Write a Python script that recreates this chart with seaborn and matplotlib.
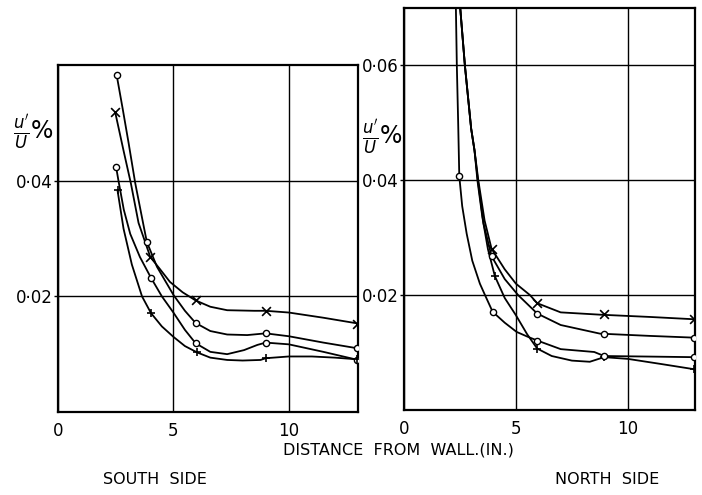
import numpy as np
import pandas as pd
import matplotlib
matplotlib.use("Agg")
import matplotlib.pyplot as plt
import seaborn as sns

# ---------------- data ----------------
# South side – measured points
s_A_pts = [0.0583, 0.0294, 0.0154, 0.0136, 0.0110]   # circles (top start)
s_X_pts = [0.0518, 0.0268, 0.0193, 0.0175, 0.0153]   # crosses
s_C_pts = [0.0423, 0.0232, 0.0119, 0.0120, 0.0090]   # circles
s_P_pts = [0.0383, 0.0171, 0.0103, 0.0093, 0.0091]   # plus
s_A_xp = [2.54, 3.85, 5.96, 9.0, 12.96]
s_X_xp = [2.48, 4.0, 5.96, 9.0, 12.96]
s_C_xp = [2.52, 4.03, 5.96, 9.0, 12.96]
s_P_xp = [2.58, 4.03, 6.03, 9.0, 12.96]
# South side – faired curves
s_A_cx = [2.54, 2.8, 3.06, 3.35, 3.71, 3.85, 4.29, 5.01, 5.5, 5.96, 6.6, 7.33, 8.2, 9.0, 10.0, 11.5, 13.0]
s_A_cy = [0.0583, 0.0525, 0.0465, 0.0395, 0.0322, 0.0294, 0.0251, 0.0202, 0.0175, 0.0154, 0.0140, 0.0134, 0.0133, 0.0136, 0.0131, 0.0120, 0.0110]
s_X_cx = [2.48, 2.84, 3.16, 3.49, 4.0, 4.4, 4.85, 5.4, 5.96, 6.6, 7.33, 8.5, 9.0, 10.0, 11.5, 13.0]
s_X_cy = [0.0518, 0.0452, 0.0395, 0.0327, 0.0268, 0.0248, 0.0225, 0.0207, 0.0193, 0.0182, 0.0176, 0.0175, 0.0175, 0.0172, 0.0163, 0.0153]
s_C_cx = [2.52, 2.62, 2.85, 3.13, 3.55, 4.03, 4.5, 5.0, 5.5, 5.96, 6.6, 7.33, 8.06, 8.64, 9.0, 10.0, 11.5, 13.0]
s_C_cy = [0.0423, 0.0400, 0.0350, 0.0308, 0.0268, 0.0232, 0.0200, 0.0172, 0.0142, 0.0119, 0.0104, 0.0100, 0.0107, 0.0116, 0.0120, 0.0117, 0.0104, 0.0090]
s_P_cx = [2.58, 2.84, 3.2, 3.64, 4.03, 4.5, 5.0, 5.5, 6.03, 6.6, 7.33, 8.0, 8.78, 9.0, 10.0, 11.0, 12.0, 13.0]
s_P_cy = [0.0383, 0.0317, 0.0255, 0.0200, 0.0171, 0.0148, 0.0130, 0.0114, 0.0103, 0.0094, 0.0090, 0.0089, 0.0090, 0.0093, 0.0096, 0.0096, 0.0094, 0.0091]

# North side – measured points
n_x_pts = [3.91, 5.95, 8.94, 12.96]
n_X_pts = [0.0281, 0.0186, 0.0168, 0.0158]
n_E_pts = [0.0268, 0.0168, 0.0132, 0.0126]
n_P_x_pts = [4.06, 5.95, 8.94, 12.96]
n_P_pts = [0.0233, 0.0107, 0.0092, 0.0071]
n_D_x_pts = [2.47, 3.96, 5.95, 8.94, 12.96]
n_D_pts = [0.0407, 0.0171, 0.0121, 0.0094, 0.0092]
# North side – faired curves
n_X_cx = [2.47, 2.72, 3.0, 3.15, 3.32, 3.6, 3.91, 4.5, 5.0, 5.63, 5.95, 7.0, 8.75, 11.0, 12.96]
n_X_cy = [0.0720, 0.0600, 0.0490, 0.0452, 0.0400, 0.0330, 0.0281, 0.0245, 0.0220, 0.0200, 0.0186, 0.0170, 0.0166, 0.0162, 0.0158]
n_E_cx = [2.47, 2.72, 3.0, 3.15, 3.30, 3.55, 3.91, 4.5, 5.1, 5.95, 7.0, 8.75, 11.0, 12.96]
n_E_cy = [0.0720, 0.0600, 0.0490, 0.0452, 0.0400, 0.0325, 0.0268, 0.0228, 0.0200, 0.0168, 0.0148, 0.0133, 0.0129, 0.0126]
n_P_cx = [2.47, 2.72, 3.0, 3.15, 3.28, 3.5, 3.75, 4.06, 4.5, 5.0, 5.5, 5.95, 6.6, 7.5, 8.3, 8.94, 10.0, 11.5, 12.96]
n_P_cy = [0.0720, 0.0600, 0.0490, 0.0452, 0.0400, 0.0336, 0.0280, 0.0233, 0.0195, 0.0165, 0.0132, 0.0107, 0.0094, 0.0086, 0.0084, 0.0092, 0.0089, 0.0080, 0.0071]
n_D_cx = [2.31, 2.36, 2.42, 2.47, 2.6, 2.8, 3.05, 3.39, 3.62, 3.96, 4.5, 5.03, 5.5, 5.95, 7.0, 8.5, 8.94, 11.0, 12.96]
n_D_cy = [0.0720, 0.0600, 0.0500, 0.0407, 0.0355, 0.0307, 0.0260, 0.0220, 0.0200, 0.0171, 0.0152, 0.0136, 0.0128, 0.0121, 0.0106, 0.0101, 0.0094, 0.0093, 0.0092]

x_ticks = [0, 5, 10]
s_y_ticks = [0.02, 0.04]
s_y_labels = ["0·02", "0·04"]
n_y_ticks = [0.02, 0.04, 0.06]
n_y_labels = ["0·02", "0·04", "0·06"]

# ---------------- figure ----------------
sns.set_style("white")
plt.rcParams["font.family"] = ["DejaVu Sans"]
plt.rcParams["text.color"] = "black"
plt.rcParams["xtick.color"] = "black"
plt.rcParams["ytick.color"] = "black"
fig = plt.figure(figsize=(7.02, 4.95), dpi=100)
axL = fig.add_axes([58/702, 83/495, 300/702, 347/495])
axR = fig.add_axes([404/702, 85/495, 291/702, 402/495])

def draw_curves(ax, curves):
    for cx, cy in curves:
        df = pd.DataFrame({"x": cx, "y": cy})
        sns.lineplot(data=df, x="x", y="y", ax=ax, color="black", lw=1.3,
                     sort=False, estimator=None, zorder=3)

def draw_pts(ax, xs, ys, marker):
    df = pd.DataFrame({"x": xs, "y": ys})
    if marker == "o":
        sns.scatterplot(data=df, x="x", y="y", ax=ax, marker="o", s=20,
                        facecolor="white", edgecolor="black", linewidth=1.0, zorder=4)
    else:
        sns.scatterplot(data=df, x="x", y="y", ax=ax, marker=marker, s=40,
                        color="black", linewidth=1.2, zorder=4)

draw_curves(axL, [(s_A_cx, s_A_cy), (s_X_cx, s_X_cy), (s_C_cx, s_C_cy), (s_P_cx, s_P_cy)])
draw_pts(axL, s_A_xp, s_A_pts, "o")
draw_pts(axL, s_X_xp, s_X_pts, "x")
draw_pts(axL, s_C_xp, s_C_pts, "o")
draw_pts(axL, s_P_xp, s_P_pts, "+")

draw_curves(axR, [(n_X_cx, n_X_cy), (n_E_cx, n_E_cy), (n_P_cx, n_P_cy), (n_D_cx, n_D_cy)])
draw_pts(axR, n_x_pts, n_X_pts, "x")
draw_pts(axR, n_x_pts, n_E_pts, "o")
draw_pts(axR, n_P_x_pts, n_P_pts, "+")
draw_pts(axR, n_D_x_pts, n_D_pts, "o")

for ax, ytk, ylb, ytop in [(axL, s_y_ticks, s_y_labels, 0.06), (axR, n_y_ticks, n_y_labels, 0.07)]:
    ax.set_xlim(0, 13)
    ax.set_ylim(0, ytop)
    ax.set_xticks(x_ticks)
    ax.set_xticklabels([str(t) for t in x_ticks])
    ax.set_yticks(ytk)
    ax.set_yticklabels(ylb)
    ax.grid(True, color="black", lw=1.0)
    ax.set_axisbelow(True)
    for sp in ax.spines.values():
        sp.set_visible(True)
        sp.set_color("black")
        sp.set_linewidth(1.6)
    ax.tick_params(axis="x", length=0, pad=7, labelsize=12)
    ax.tick_params(axis="y", length=3, width=1.0, direction="out", pad=1, labelsize=12, left=True)
    ax.set_xlabel("")
    ax.set_ylabel("")

fig.text(34/702, 1 - 132/495, r"$\frac{u'}{U}$%", fontsize=17, ha="center", va="center")
fig.text(383/702, 1 - 137/495, r"$\frac{u'}{U}$%", fontsize=17, ha="center", va="center")
fig.text(398/702, 1 - 450/495, "DISTANCE  FROM  WALL.(IN.)", fontsize=11.5, ha="center", va="center")
fig.text(155/702, 1 - 479/495, "SOUTH  SIDE", fontsize=11.5, ha="center", va="center")
fig.text(607/702, 1 - 479/495, "NORTH  SIDE", fontsize=11.5, ha="center", va="center")

fig.savefig("out.png", dpi=100)
